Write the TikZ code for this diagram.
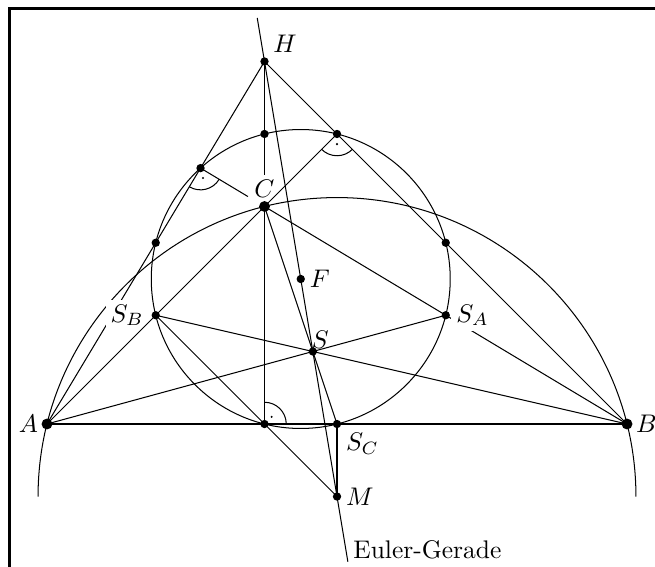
\documentclass[tikz,border=0pt]{standalone}
\begin{document}
\begin{tikzpicture}[
  bigdot/.style={circle, fill=black, inner sep=0pt, minimum size=1.5mm},
  smalldot/.style={circle, fill=black, inner sep=0pt, minimum size=1.15mm},
  tinydot/.style={circle, fill=black, inner sep=0pt, minimum size=0.9pt},
  lbl/.style={fill=white, inner sep=2pt}
]
\useasboundingbox (-0.648,-1.972) rectangle (8.386,5.848);
% frame
\draw[line width=1.2pt] (-0.517,-2.6) rectangle (9.0,5.731);
% points
\coordinate (A) at (0,0);
\coordinate (B) at (8,0);
\coordinate (C) at (3,3);
\coordinate (H) at (3,5);
\coordinate (M) at (4,-1);
\coordinate (F) at (3.5,2);
\coordinate (S) at (3.66667,1);
\coordinate (SA) at (5.5,1.5);
\coordinate (SB) at (1.5,1.5);
\coordinate (SC) at (4,0);
\coordinate (Ha) at (2.11765,3.52941);
\coordinate (Hb) at (4,4);
\coordinate (Hc) at (3,0);
\coordinate (MA) at (1.5,2.5);
\coordinate (MB) at (5.5,2.5);
\coordinate (MC) at (3,4);
\coordinate (E1) at (2.9,5.6);
\coordinate (E2) at (4.15,-1.9);
\coordinate (gV) at (3,3.434);
\coordinate (gA) at (2.772,3.137);
% circles
\draw ([shift={(180:4.1231)}]M) arc[start angle=180, end angle=0, radius=4.1231];
\draw (F) circle[radius=2.0616];
% lines
\draw (A) -- (B);
\draw (B) -- (C);
\draw (Ha) -- (gA);
\draw (H) -- (A);
\draw (H) -- (B);
\draw (H) -- (gV);
\draw (C) -- (Hc);
\draw (A) -- (SA);
\draw (B) -- (SB);
\draw (C) -- (SC);
\draw (SB) -- (M);
\draw (SC) -- (M);
\draw (E1) -- (E2);
% right angles
\draw ([shift={(0:0.3)}]Hc) arc[start angle=0, end angle=90, radius=0.3];
\node[tinydot] (rc) at ([shift={(45:0.14)}]Hc) {};
\draw ([shift={(239.04:0.3)}]Ha) arc[start angle=239.04, end angle=329.04, radius=0.3];
\node[tinydot] (ra) at ([shift={(284.04:0.14)}]Ha) {};
\draw ([shift={(225:0.3)}]Hb) arc[start angle=225, end angle=315, radius=0.3];
\node[tinydot] (rb) at ([shift={(270:0.14)}]Hb) {};
% labels
\node[left] (lA) at (A) {$A$};
\node[right] (lB) at (B) {$B$};
\node[above] (lC) at (C) {$C$};
\node[above right] (lH) at (H) {$H$};
\node[right] (lF) at (F) {$F$};
\node[anchor=south west, inner sep=0.5pt] (lS) at ([shift={(-0.04,0.01)}]S) {$S$};
\node[lbl, right, xshift=2pt] (lSA) at (SA) {$S_A$};
\node[lbl, left, xshift=-2.5pt] (lSB) at (SB) {$S_B$};
\node[below right] (lSC) at (SC) {$S_C$};
\node[right] (lM) at (M) {$M$};
\node[anchor=base west, inner sep=0pt] (lE) at (4.22,-1.85) {Euler-Gerade};
% line drawn over the S_B label
\draw (A) -- (Hb);
% dots
\node[bigdot] (dA) at (A) {};
\node[bigdot] (dB) at (B) {};
\node[bigdot] (dC) at (C) {};
\node[smalldot] (dH) at (H) {};
\node[smalldot] (dM) at (M) {};
\node[smalldot] (dF) at (F) {};
\node[smalldot] (dS) at (S) {};
\node[smalldot] (dSA) at (SA) {};
\node[smalldot] (dSB) at (SB) {};
\node[smalldot] (dSC) at (SC) {};
\node[smalldot] (dHa) at (Ha) {};
\node[smalldot] (dHb) at (Hb) {};
\node[smalldot] (dHc) at (Hc) {};
\node[smalldot] (dMA) at (MA) {};
\node[smalldot] (dMB) at (MB) {};
\node[smalldot] (dMC) at (MC) {};
\end{tikzpicture}
\end{document}
